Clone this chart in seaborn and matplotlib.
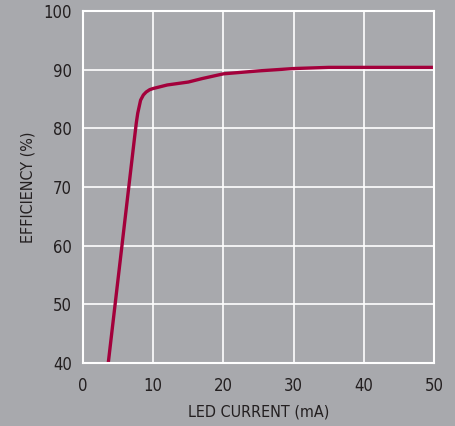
import seaborn as sns
import matplotlib.pyplot as plt
import pandas as pd

# values
led_current = [3.6, 5.5, 7.3, 7.6, 7.8, 8.2, 8.6, 9.0, 9.5, 10, 12, 15, 17, 20, 25, 30, 35, 40, 50]
efficiency = [40, 59.5, 78, 81, 82.6, 84.8, 85.7, 86.2, 86.6, 86.8, 87.4, 87.9, 88.5, 89.3, 89.8, 90.2, 90.4, 90.4, 90.4]
x_ticks = [0, 10, 20, 30, 40, 50]
y_ticks = [40, 50, 60, 70, 80, 90, 100]

bg = '#a8a9ad'
txt = '#231f20'

sns.set_theme(style='darkgrid', rc={'axes.facecolor': bg, 'figure.facecolor': bg,
                                    'grid.color': 'white', 'grid.linewidth': 1.2})
plt.rcParams['font.family'] = ['DejaVu Sans']
plt.rcParams['font.stretch'] = 'condensed'

df = pd.DataFrame({'current': led_current, 'eff': efficiency})

fig = plt.figure(figsize=(4.55, 4.26), dpi=100)
ax = fig.add_axes([0.1824, 0.148, 0.7716, 0.826])
sns.lineplot(data=df, x='current', y='eff', ax=ax, color='#a3003b', linewidth=2.4)

ax.set_xlim(0, 50)
ax.set_ylim(40, 100)
ax.set_xticks(x_ticks)
ax.set_yticks(y_ticks)
ax.tick_params(labelsize=12, labelcolor=txt, length=0)
ax.tick_params(axis='x', pad=10)
ax.tick_params(axis='y', pad=8)
ax.set_xlabel('LED CURRENT (mA)', fontsize=11.5, color=txt, labelpad=7)
ax.set_ylabel('EFFICIENCY (%)', fontsize=11.5, color=txt, labelpad=6)
for s in ax.spines.values():
    s.set_visible(True)
    s.set_color('white')
    s.set_linewidth(1.5)

fig.savefig('out.png', dpi=100)
